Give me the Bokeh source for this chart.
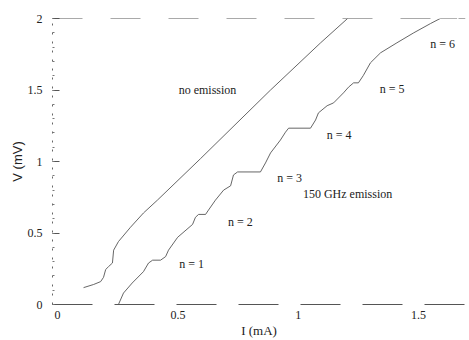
from bokeh.plotting import figure
from bokeh.models import Range1d, Span, FixedTicker, ColumnDataSource
from bokeh.core.properties import value
from bokeh.embed import file_html
from bokeh.resources import INLINE

# Upper boundary curve (no emission above)
upper_I = [0.108, 0.15, 0.179, 0.191, 0.20, 0.212, 0.228, 0.233, 0.253, 0.303, 0.357, 0.415, 0.594, 0.885, 1.093, 1.205]
upper_V = [0.118, 0.14, 0.16, 0.19, 0.245, 0.265, 0.29, 0.38, 0.44, 0.54, 0.64, 0.73, 1.02, 1.50, 1.83, 2.0]

# Lower stepped curve (150 GHz emission)
lower_I = [0.253, 0.274, 0.31, 0.357, 0.378, 0.395, 0.428, 0.449, 0.461, 0.499, 0.561, 0.573, 0.586, 0.615,
           0.627, 0.656, 0.69, 0.719, 0.731, 0.748, 0.843, 0.864, 0.885, 0.926, 0.947, 0.96, 1.051, 1.072,
           1.084, 1.12, 1.147, 1.188, 1.209, 1.23, 1.25, 1.27, 1.30, 1.342, 1.41, 1.48, 1.55, 1.59, 1.66]
lower_V = [0.0, 0.08, 0.15, 0.23, 0.29, 0.31, 0.31, 0.335, 0.38, 0.47, 0.56, 0.61, 0.63, 0.63,
           0.66, 0.73, 0.80, 0.83, 0.906, 0.927, 0.927, 0.99, 1.06, 1.15, 1.205, 1.233, 1.233, 1.29,
           1.34, 1.39, 1.41, 1.48, 1.52, 1.55, 1.55, 1.60, 1.69, 1.76, 1.83, 1.90, 1.965, 2.0, 2.0]

# Annotations
label_text = ["no emission", "150 GHz emission", "n = 1", "n = 2", "n = 3", "n = 4", "n = 5", "n = 6"]
label_I = [0.623, 1.205, 0.557, 0.76, 0.964, 1.17, 1.39, 1.60]
label_V = [1.50, 0.77, 0.285, 0.58, 0.885, 1.185, 1.51, 1.825]

x_ticks = [0, 0.5, 1, 1.5]
y_ticks = [0, 0.5, 1, 1.5, 2]

p = figure(width=469, height=340, output_backend="svg", toolbar_location=None,
           x_range=Range1d(-0.021, 1.695), y_range=Range1d(0, 2),
           min_border_left=52, min_border_right=4, min_border_top=18, min_border_bottom=35)
p.outline_line_color = None
p.grid.visible = False
p.background_fill_color = "white"

SERIF = "Liberation Serif"

p.xaxis.ticker = FixedTicker(ticks=x_ticks)
p.yaxis.ticker = FixedTicker(ticks=y_ticks, minor_ticks=[i / 10 for i in range(21)])
p.xaxis.major_tick_in = 0
p.xaxis.major_tick_out = 0
p.xaxis.minor_tick_in = 0
p.xaxis.minor_tick_out = 0
p.xaxis.major_label_standoff = 6
p.xaxis.axis_line_color = "#555555"
p.xaxis.axis_line_dash = "40 22"
p.xaxis.axis_label = "I (mA)"
p.xaxis.axis_label_standoff = 1
p.xaxis.axis_label_text_font = SERIF
p.xaxis.axis_label_text_font_size = "13px"

p.yaxis.major_tick_in = 7
p.yaxis.major_tick_out = 0
p.yaxis.minor_tick_in = 2
p.yaxis.minor_tick_out = 0
p.yaxis.major_label_standoff = 10
p.yaxis.axis_line_color = "#666666"
p.yaxis.axis_line_dash = "2 7"
p.yaxis.axis_label = "V (mV)"
p.yaxis.axis_label_standoff = 0
p.yaxis.axis_label_text_font = "Liberation Sans"
p.yaxis.axis_label_text_font_size = "13px"

for ax in (p.xaxis, p.yaxis):
    ax.major_label_text_font = SERIF
    ax.major_label_text_font_size = "12px"
    ax.major_label_text_color = "#222222"
    ax.major_tick_line_color = "#555555"
    ax.minor_tick_line_color = "#777777"
    ax.axis_label_text_font_style = "normal"
    ax.axis_label_text_color = "#222222"

p.add_layout(Span(location=2, dimension="width", line_color="#555555", line_width=1, line_dash="30 28"))

p.line(upper_I, upper_V, line_color="#555555", line_width=0.9)
p.line(lower_I, lower_V, line_color="#555555", line_width=0.9)

src = ColumnDataSource(dict(x=label_I, y=label_V, t=label_text))
p.text(x="x", y="y", text="t", source=src, text_font=value(SERIF), text_font_size="12px",
       text_align="center", text_baseline="middle", text_color="#222222")

open("out.html", "w").write(file_html(p, INLINE))
